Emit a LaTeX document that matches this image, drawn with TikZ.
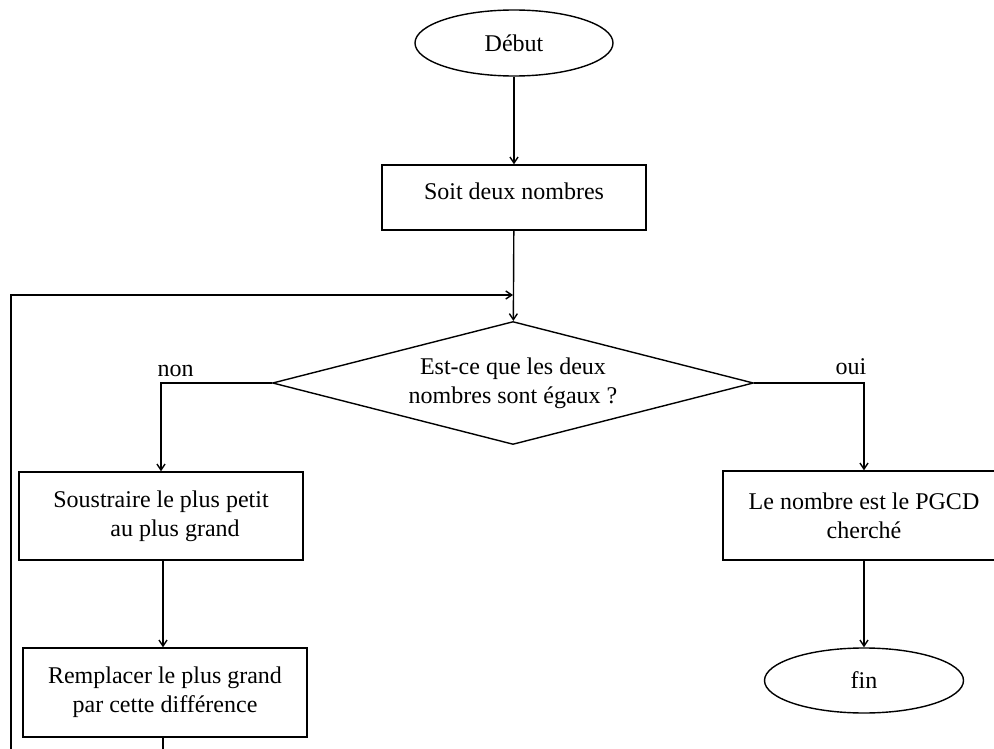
\documentclass[tikz,border=0pt]{standalone}
\usepackage{fontspec}
\setmainfont{Liberation Serif}
\usetikzlibrary{shapes.geometric,arrows.meta}
\begin{document}
\begin{tikzpicture}[x=1pt,y=-1pt,
  line width=1.4pt,
  every node/.style={font=\fontsize{24}{29}\selectfont},
  term/.style={draw, ellipse, minimum width=198pt, minimum height=66pt, inner sep=0pt},
  proc/.style={draw, rectangle, align=center, inner sep=0pt},
  cond/.style={draw, diamond, aspect=3.9, minimum width=481pt, minimum height=123pt,
               inner sep=0pt, align=center},
  flow/.style={-{Straight Barb[length=6pt,width=8pt]}},
  lbl/.style={inner sep=0pt}
]
% page frame
\useasboundingbox (0,0) rectangle (994,749);
\fill[white] (0,0) rectangle (994,749);
\clip (0,0) rectangle (994,749);

% nodes
\node[term] (debut) at (514,43) {Début};
\node[proc, minimum width=264pt, minimum height=65pt, text depth=13pt] (soit) at (514,197.5) {Soit deux nombres};
\node[cond] (test) at (513,383) {Est-ce que les deux\\nombres sont égaux ?};
\node[proc, minimum width=284pt, minimum height=88pt] (sous) at (161,516) {Soustraire le plus petit\\\hspace*{28pt}au plus grand};
\node[proc, minimum width=284pt, minimum height=89pt] (remp) at (165,692.5) {Remplacer le plus grand\\par cette différence};
\node[proc, minimum width=282pt, minimum height=89pt] (pgcd) at (864,515.5) {Le nombre est le PGCD\\cherché};
\node[term, minimum width=199pt, minimum height=65pt] (fin) at (864,680.5) {fin};

% junction where the loop comes back in
\coordinate (join) at (514,295);

% connectors
\draw[flow] (debut) -- (soit);
\draw[flow] (soit) -- (test);
\draw[flow] (test.west) -| node[pos=0.5, lbl, anchor=south west, xshift=-4pt, yshift=6pt] (non) {non} (sous.north);
\draw[flow] (test.east) -| node[pos=0.5, lbl, anchor=south east, xshift=3pt, yshift=8pt] (oui) {oui} (pgcd.north);
\draw[flow] ([xshift=2pt]sous.south) -- ([xshift=-2pt]remp.north);
\draw[flow] (pgcd) -- (fin);
\draw[flow, shorten >=1pt] ([xshift=-2pt]remp.south) -- ++(0,30) -| (11,700) |- (join);
\end{tikzpicture}
\end{document}
